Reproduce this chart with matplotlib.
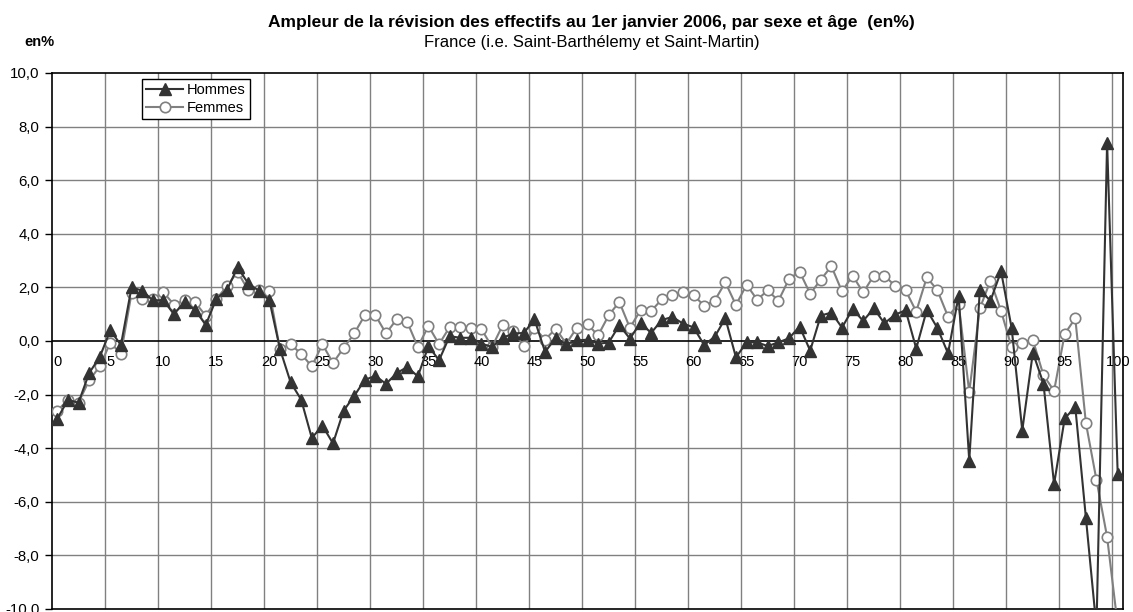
import numpy as np
import matplotlib.pyplot as plt
from matplotlib.ticker import FuncFormatter

plt.rcParams['font.family'] = ['Liberation Sans', 'DejaVu Sans']

## donnees (age 0 a 100)
ages = np.arange(0, 101, 1)
hommes = [-2.9, -2.2, -2.3, -1.2, -0.6, 0.4, -0.15, 2.0, 1.88, 1.52,
          1.52, 1.0, 1.46, 1.15, 0.6, 1.58, 1.9, 2.75, 2.15, 1.88,
          1.52, -0.3, -1.54, -2.19, -3.62, -3.16, -3.82, -2.6, -2.05, -1.45,
          -1.3, -1.6, -1.2, -0.97, -1.32, -0.19, -0.72, 0.18, 0.12, 0.12,
          -0.1, -0.22, 0.12, 0.28, 0.3, 0.81, -0.41, 0.12, -0.12, 0.02,
          0.05, -0.1, -0.06, 0.59, 0.09, 0.68, 0.3, 0.78, 0.9, 0.65,
          0.51, -0.15, 0.16, 0.85, -0.61, -0.05, -0.05, -0.19, -0.05, 0.1,
          0.54, -0.36, 0.95, 1.06, 0.5, 1.19, 0.75, 1.22, 0.66, 0.98,
          1.15, -0.28, 1.16, 0.48, -0.46, 1.69, -4.46, 1.91, 1.5, 2.6,
          0.48, -3.34, -0.43, -1.59, -5.34, -2.89, -2.46, -6.59, -10.7, 7.4,
          -4.96]
femmes = [-2.6, -2.2, -2.3, -1.47, -0.95, -0.06, -0.48, 1.78, 1.55, 1.58,
          1.82, 1.36, 1.52, 1.44, 0.94, 1.56, 2.05, 2.58, 1.9, 1.9,
          1.85, -0.31, -0.12, -0.48, -0.95, -0.12, -0.82, -0.26, 0.28, 0.96,
          0.96, 0.28, 0.81, 0.71, -0.22, 0.56, -0.12, 0.52, 0.52, 0.48,
          0.44, -0.22, 0.59, 0.36, -0.19, 0.49, 0.05, 0.46, -0.1, 0.5,
          0.62, 0.21, 0.96, 1.46, 0.49, 1.15, 1.12, 1.55, 1.71, 1.84,
          1.72, 1.31, 1.51, 2.19, 1.34, 2.1, 1.54, 1.89, 1.5, 2.31,
          2.59, 1.76, 2.29, 2.79, 1.85, 2.44, 1.81, 2.44, 2.44, 2.06,
          1.89, 1.1, 2.38, 1.89, 0.91, 1.39, -1.9, 1.22, 2.25, 1.12,
          -0.24, -0.06, 0.04, -1.28, -1.86, 0.26, 0.85, -3.06, -5.19, -7.31,
          -10.6]
xlabels = list(range(0, 101, 5))

fig = plt.figure(figsize=(11.33, 6.12), dpi=100)
ax = fig.add_axes([52/1133, 1 - 609/612, (1123 - 52)/1133, (609 - 73)/612])

ax.set_xlim(-0.5, 100.5)
ax.set_ylim(-10, 10)

# grille
for xb in np.arange(4.5, 100, 5):
    ax.axvline(xb, color='#808080', lw=1, zorder=1)
for yb in np.arange(-8, 10, 2):
    if yb != 0:
        ax.axhline(yb, color='#808080', lw=1, zorder=1)
ax.axhline(0, color='black', lw=1.2, zorder=2)

ax.plot(ages, femmes, color='#808080', lw=1.5, marker='o', ms=7.5,
        mfc='white', mec='#808080', mew=1.2, label='Femmes', zorder=3)
ax.plot(ages, hommes, color='#333333', lw=1.5, marker='^', ms=8,
        mfc='#333333', mec='#333333', label='Hommes', zorder=4)

ax.set_xticks([])
for v in xlabels:
    ax.annotate(str(v), xy=(v, 0), xytext=(0, -21), textcoords='offset pixels',
                ha='center', va='center', fontsize=10.5)

ax.set_yticks(np.arange(-10, 11, 2))
ax.yaxis.set_major_formatter(FuncFormatter(lambda v, p: ('%.1f' % v).replace('.', ',')))
ax.tick_params(axis='y', length=5, width=1, labelsize=10.8, pad=4)
for s in ax.spines.values():
    s.set_linewidth(1.2)

h, l = ax.get_legend_handles_labels()
leg = ax.legend(h[::-1], l[::-1], loc='upper left', bbox_to_anchor=(142/1133, 1 - 79/612),
                bbox_transform=fig.transFigure, borderaxespad=0, fancybox=False,
                edgecolor='black', framealpha=1, fontsize=10.5, handlelength=2.5,
                handletextpad=0.3, labelspacing=0.25, borderpad=0.3)
leg.get_frame().set_linewidth(1)

fig.text(591/1133, 1 - 23/612, u"Ampleur de la révision des effectifs au 1er janvier 2006, par sexe et âge  (en%)",
         ha='center', va='center', fontsize=12.5, fontweight='bold')
fig.text(592/1133, 1 - 43/612, u"France (i.e. Saint-Barthélemy et Saint-Martin)",
         ha='center', va='center', fontsize=12)
fig.text(39/1133, 1 - 42/612, "en%", ha='center', va='center', fontsize=10.5, fontweight='bold')

fig.savefig('out.png', dpi=100)
